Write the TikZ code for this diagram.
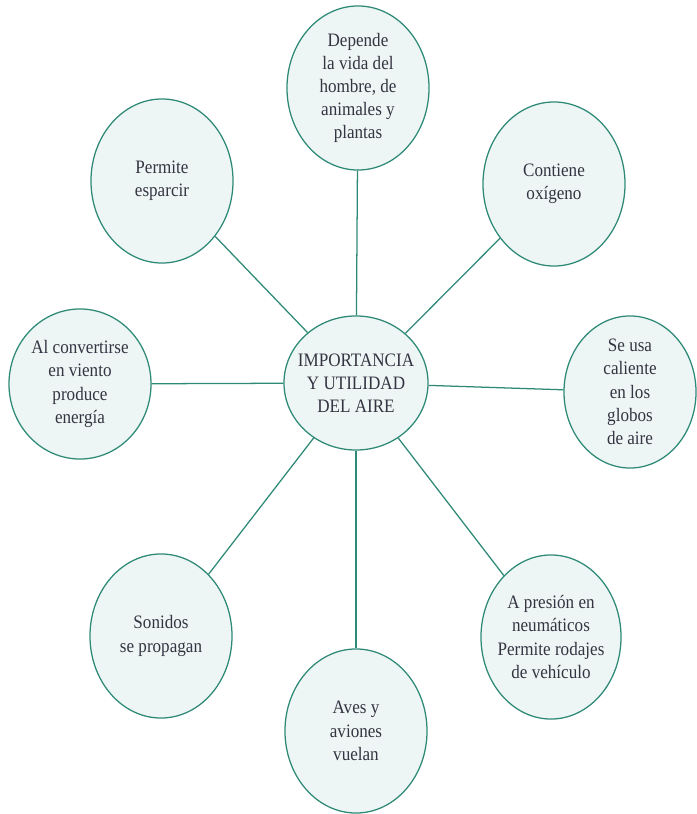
\documentclass[tikz,border=0pt]{standalone}
\usepackage{fontspec}
\setmainfont{Liberation Serif}[FakeStretch=0.9]
\usetikzlibrary{shapes.geometric,positioning}

\definecolor{borde}{RGB}{46,138,118}
\definecolor{relleno}{RGB}{238,246,245}
\definecolor{letra}{RGB}{52,52,66}

\begin{document}
\begin{tikzpicture}[x=0.025cm, y=-0.025cm,
  idea/.style={draw=borde, fill=relleno, ellipse, line width=0.9pt, inner sep=-12pt,
    minimum width=3.55cm, minimum height=4.1cm, align=center, text=letra,
    font=\rmfamily\fontsize{13.5}{16.5}\selectfont},
  enlace/.style={draw=borde, line width=0.9pt}]
\useasboundingbox (0,0) rectangle (696,814);
% nodos
\node[idea, minimum width=3.6cm, minimum height=3.35cm] (aire) at (356,383) {IMPORTANCIA\\Y UTILIDAD\\DEL AIRE};
\node[idea] (vida) at (358,88) {Depende\\la vida del\\hombre, de\\animales y\\plantas};
\node[idea] (esparcir) at (162,181) {Permite\\esparcir};
\node[idea] (oxigeno) at (554,184) {Contiene\\oxígeno};
\node[idea, minimum height=3.75cm] (viento) at (80,384) {Al convertirse\\en viento\\produce\\energía};
\node[idea, minimum width=3.3cm, minimum height=3.8cm] (globos) at (630,392) {Se usa\\caliente\\en los\\globos\\de aire};
\node[idea] (sonidos) at (161,636) {Sonidos\\se propagan};
\node[idea] (aves) at (356,731) {Aves y\\aviones\\vuelan};
\node[idea, minimum width=3.5cm] (presion) at (551,637) {A presión en\\neumáticos\\Permite rodajes\\de vehículo};

% enlaces
\draw[enlace] (aire) -- (vida);
\draw[enlace] (aire) -- (esparcir);
\draw[enlace] (aire) -- (oxigeno);
\draw[enlace] (aire) -- (viento);
\draw[enlace] (aire) -- (globos);
\draw[enlace] (aire) -- (sonidos);
\draw[enlace] (aire) -- (aves);
\draw[enlace] (aire) -- (presion);
\end{tikzpicture}
\end{document}
